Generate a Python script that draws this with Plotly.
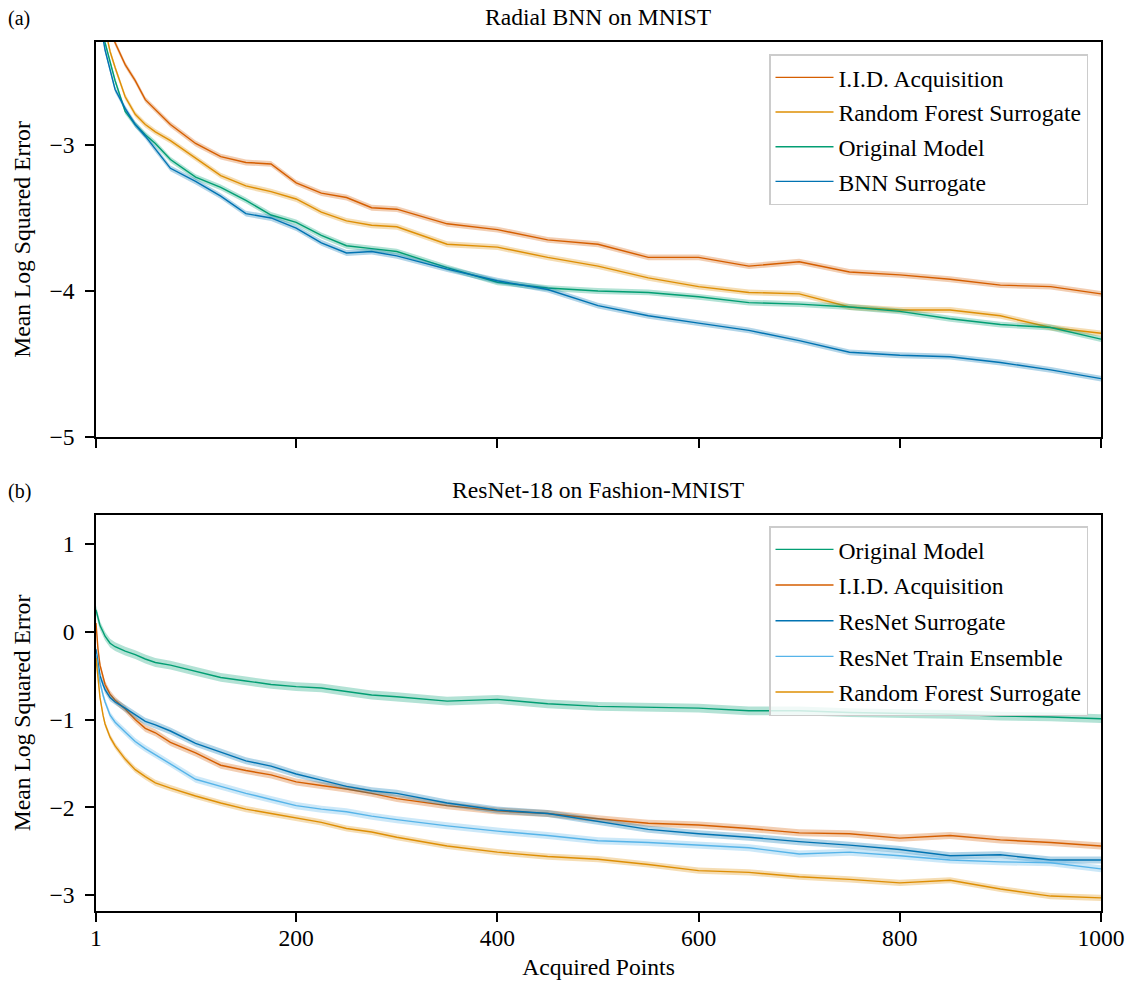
import plotly.graph_objects as go

# ---------------- data: panel (a) Radial BNN on MNIST ----------------
x_top = [1, 5, 10, 15, 20, 30, 40, 50, 60, 75, 100, 125, 150, 175, 200, 225, 250, 275,
         300, 350, 400, 450, 500, 550, 600, 650, 700, 750, 800, 850, 900, 950, 1000]
top_iid = [-1.90, -2.05, -2.15, -2.22, -2.30, -2.45, -2.56, -2.69, -2.76, -2.86, -2.99, -3.08,
           -3.12, -3.13, -3.26, -3.33, -3.36, -3.43, -3.44, -3.54, -3.58, -3.65, -3.68, -3.77,
           -3.77, -3.83, -3.80, -3.87, -3.89, -3.92, -3.96, -3.97, -4.02]
top_rf = [-1.80, -2.00, -2.20, -2.36, -2.47, -2.67, -2.79, -2.86, -2.91, -2.97, -3.09, -3.21,
          -3.28, -3.32, -3.37, -3.46, -3.52, -3.55, -3.56, -3.68, -3.70, -3.77, -3.83, -3.91,
          -3.97, -4.01, -4.02, -4.11, -4.13, -4.13, -4.17, -4.25, -4.29]
top_orig = [-1.90, -2.10, -2.30, -2.43, -2.56, -2.77, -2.86, -2.93, -2.99, -3.10, -3.22, -3.29,
            -3.38, -3.48, -3.53, -3.62, -3.69, -3.71, -3.73, -3.84, -3.94, -3.98, -4.00, -4.01,
            -4.04, -4.08, -4.09, -4.11, -4.14, -4.19, -4.23, -4.25, -4.33]
top_bnn = [-1.90, -2.15, -2.35, -2.48, -2.62, -2.75, -2.86, -2.94, -3.03, -3.16, -3.25, -3.35,
           -3.47, -3.50, -3.57, -3.67, -3.74, -3.73, -3.76, -3.85, -3.93, -3.99, -4.10, -4.17,
           -4.22, -4.27, -4.34, -4.42, -4.44, -4.45, -4.49, -4.54, -4.60]
top_err = 0.02

# ---------------- data: panel (b) ResNet-18 on Fashion-MNIST ----------------
x_bot = [1, 3, 5, 8, 10, 15, 20, 30, 40, 50, 60, 75, 100, 125, 150, 175, 200, 225, 250, 275,
         300, 350, 400, 450, 500, 550, 600, 650, 700, 750, 800, 850, 900, 950, 1000]
bot_orig = [0.25, 0.15, 0.07, 0.00, -0.05, -0.13, -0.17, -0.22, -0.26, -0.31, -0.35, -0.38,
            -0.45, -0.52, -0.56, -0.60, -0.625, -0.64, -0.68, -0.72, -0.74, -0.79, -0.77,
            -0.82, -0.85, -0.86, -0.87, -0.90, -0.90, -0.92, -0.93, -0.94, -0.96, -0.97, -0.99]
bot_iid = [0.10, -0.20, -0.38, -0.53, -0.60, -0.71, -0.78, -0.88, -1.00, -1.10, -1.15, -1.26,
           -1.38, -1.52, -1.58, -1.63, -1.71, -1.75, -1.79, -1.84, -1.90, -1.98, -2.04, -2.07,
           -2.13, -2.18, -2.20, -2.24, -2.29, -2.30, -2.35, -2.32, -2.37, -2.40, -2.44]
bot_resnet = [-0.20, -0.38, -0.50, -0.60, -0.66, -0.75, -0.80, -0.87, -0.95, -1.02, -1.06,
              -1.13, -1.27, -1.37, -1.47, -1.53, -1.62, -1.69, -1.76, -1.81, -1.84, -1.95,
              -2.03, -2.07, -2.16, -2.25, -2.30, -2.34, -2.39, -2.43, -2.48, -2.55, -2.54,
              -2.60, -2.60]
bot_ens = [-0.25, -0.45, -0.58, -0.72, -0.80, -0.95, -1.03, -1.14, -1.25, -1.33, -1.40, -1.50,
           -1.68, -1.76, -1.84, -1.91, -1.98, -2.02, -2.05, -2.10, -2.14, -2.21, -2.27, -2.32,
           -2.38, -2.40, -2.43, -2.46, -2.53, -2.51, -2.55, -2.60, -2.62, -2.63, -2.70]
bot_rf = [-0.30, -0.55, -0.75, -0.95, -1.05, -1.20, -1.30, -1.45, -1.57, -1.65, -1.72, -1.78,
          -1.87, -1.95, -2.02, -2.07, -2.12, -2.17, -2.24, -2.28, -2.34, -2.44, -2.51, -2.56,
          -2.59, -2.65, -2.72, -2.74, -2.79, -2.82, -2.86, -2.83, -2.93, -3.01, -3.03]
bot_err = {"orig": 0.05, "iid": 0.04, "resnet": 0.04, "ens": 0.04, "rf": 0.035}

x_ticks = [1, 200, 400, 600, 800, 1000]
top_yticks = [-5, -4, -3]
bot_yticks = [-3, -2, -1, 0, 1]

# ---------------- styling ----------------
C_BLUE = "#0173b2"
C_ORANGE = "#de8f05"
C_GREEN = "#029e73"
C_RED = "#d55e00"
C_LIGHT = "#56b4e9"
FONT = "Liberation Serif"
FS = 23.6


def rgba(hex_color, a):
    h = hex_color.lstrip("#")
    r, g, b = int(h[0:2], 16), int(h[2:4], 16), int(h[4:6], 16)
    return f"rgba({r},{g},{b},{a})"


fig = go.Figure()


def add_series(x, y, err, color, name, xa, ya, legend):
    up = [v + err for v in y]
    lo = [v - err for v in y]
    fig.add_trace(go.Scatter(
        x=list(x) + list(x)[::-1], y=up + lo[::-1], fill="toself",
        fillcolor=rgba(color, 0.3), line=dict(width=0), hoverinfo="skip",
        showlegend=False, xaxis=xa, yaxis=ya, mode="lines"))
    fig.add_trace(go.Scatter(
        x=x, y=y, mode="lines", line=dict(color=color, width=1.4), name=name,
        xaxis=xa, yaxis=ya, legend=legend, legendgroup=name + legend))


# panel (a) - legend order
add_series(x_top, top_iid, top_err, C_RED, "I.I.D. Acquisition", "x2", "y2", "legend")
add_series(x_top, top_rf, top_err, C_ORANGE, "Random Forest Surrogate", "x2", "y2", "legend")
add_series(x_top, top_orig, top_err, C_GREEN, "Original Model", "x2", "y2", "legend")
add_series(x_top, top_bnn, top_err, C_BLUE, "BNN Surrogate", "x2", "y2", "legend")

# panel (b)
add_series(x_bot, bot_orig, bot_err["orig"], C_GREEN, "Original Model", "x", "y", "legend2")
add_series(x_bot, bot_iid, bot_err["iid"], C_RED, "I.I.D. Acquisition", "x", "y", "legend2")
add_series(x_bot, bot_resnet, bot_err["resnet"], C_BLUE, "ResNet Surrogate", "x", "y", "legend2")
add_series(x_bot, bot_ens, bot_err["ens"], C_LIGHT, "ResNet Train Ensemble", "x", "y", "legend2")
add_series(x_bot, bot_rf, bot_err["rf"], C_ORANGE, "Random Forest Surrogate", "x", "y", "legend2")

W, H = 1127, 983
L, R, T, B = 96, 26, 42, 72
plot_w = W - L - R
plot_h = H - T - B
top_dom = [(911 - 437) / plot_h, 1.0]
bot_dom = [0.0, (911 - 515) / plot_h]

axis_common = dict(showline=True, linecolor="black", linewidth=1.5, mirror=True,
                   ticks="outside", ticklen=9, tickwidth=1.5, tickcolor="black",
                   showgrid=False, zeroline=False, automargin=False,
                   tickfont=dict(family=FONT, size=FS, color="black"))


def minus(v):
    return str(v).replace("-", "\u2212")


legend_common = dict(bgcolor="rgba(255,255,255,0.8)", bordercolor="#cccccc", borderwidth=1.5,
                     font=dict(family=FONT, size=FS, color="black"), xanchor="right",
                     yanchor="top", x=(1088 - L) / plot_w, itemwidth=58)

fig.update_layout(
    width=W, height=H, margin=dict(l=L, r=R, t=T, b=B, autoexpand=False),
    paper_bgcolor="white", plot_bgcolor="white",
    font=dict(family=FONT, size=FS, color="black"),
    xaxis=dict(domain=[0, 1], anchor="y", range=[1, 1000], tickvals=x_ticks,
               ticktext=[str(v) for v in x_ticks], ticklabelstandoff=-4,
               title=dict(text="Acquired Points", font=dict(family=FONT, size=FS), standoff=8),
               **axis_common),
    yaxis=dict(domain=bot_dom, anchor="x", range=[-3.18, 1.33], tickvals=bot_yticks,
               ticktext=[minus(v) for v in bot_yticks], ticklabelstandoff=6,
               title=dict(text="Mean Log Squared Error", font=dict(family=FONT, size=FS), standoff=12),
               **axis_common),
    xaxis2=dict(domain=[0, 1], anchor="y2", range=[1, 1000], tickvals=x_ticks,
                showticklabels=False, matches="x", **axis_common),
    yaxis2=dict(domain=top_dom, anchor="x2", range=[-5, -2.295], tickvals=top_yticks,
                ticktext=[minus(v) for v in top_yticks], ticklabelstandoff=6,
                title=dict(text="Mean Log Squared Error", font=dict(family=FONT, size=FS), standoff=12),
                **axis_common),
    legend=dict(y=(911 - 54) / plot_h, tracegroupgap=1, **legend_common),
    legend2=dict(y=(911 - 526) / plot_h, tracegroupgap=2, **legend_common),
    showlegend=True,
)

ann_font = dict(family=FONT, size=FS, color="black")
fig.add_annotation(text="Radial BNN on MNIST", xref="paper", yref="paper", x=0.5,
                   y=1.0, yshift=10, xanchor="center", yanchor="bottom",
                   showarrow=False, font=ann_font)
fig.add_annotation(text="ResNet-18 on Fashion-MNIST", xref="paper", yref="paper", x=0.5,
                   y=bot_dom[1], yshift=10, xanchor="center", yanchor="bottom",
                   showarrow=False, font=ann_font)
fig.add_annotation(text="(a)", xref="paper", yref="paper", x=-(L - 6) / plot_w, y=1.0,
                   yshift=10, xanchor="left", yanchor="bottom", showarrow=False,
                   font=dict(family=FONT, size=20, color="black"))
fig.add_annotation(text="(b)", xref="paper", yref="paper", x=-(L - 6) / plot_w, y=bot_dom[1],
                   yshift=10, xanchor="left", yanchor="bottom", showarrow=False,
                   font=dict(family=FONT, size=20, color="black"))

fig.write_html("out.html", config={"displayModeBar": False},
               post_script="document.body.style.margin='0';document.body.style.overflow='hidden';")
